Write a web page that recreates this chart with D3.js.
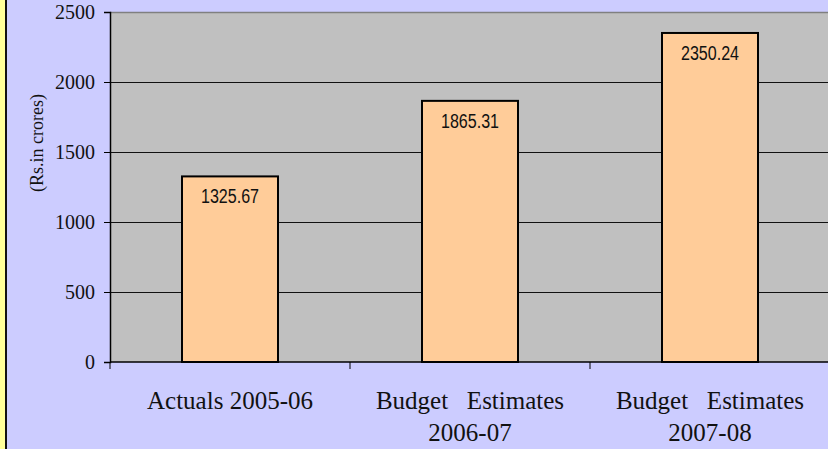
<!DOCTYPE html>
<html>
<head>
<meta charset="utf-8">
<script src="https://cdn.jsdelivr.net/npm/d3@7"></script>
<style>
  html, body { margin: 0; padding: 0; background: #ccccff; }
  svg { display: block; }
</style>
</head>
<body>
<svg id="chart" width="828" height="449"></svg>
<script>
// chart values
var categories = [
  ['Actuals 2005-06'],
  ['Budget   Estimates', '2006-07'],
  ['Budget   Estimates', '2007-08']
];
var values = [1325.67, 1865.31, 2350.24];
var yTicks = [0, 500, 1000, 1500, 2000, 2500];
var yTitle = '(Rs.in crores)';

var svg = d3.select('#chart');
var W = 828, H = 449;
var plot = { left: 110, top: 12, right: 830, bottom: 362 };

// page frame: yellow strip and dark rule on the left
svg.append('rect').attr('width', W).attr('height', H).attr('fill', '#ccccff');
svg.append('rect').attr('x', 0).attr('y', 0).attr('width', 5).attr('height', H).attr('fill', '#ffff99');
svg.append('rect').attr('x', 5).attr('y', 0).attr('width', 2).attr('height', H).attr('fill', '#111');

var x = d3.scaleBand()
  .domain(d3.range(values.length))
  .range([plot.left, plot.right])
  .paddingInner(0.6)
  .paddingOuter(0.3);

var y = d3.scaleLinear()
  .domain([0, 2500])
  .range([plot.bottom, plot.top]);

// plot area
svg.append('rect')
  .attr('x', plot.left).attr('y', plot.top)
  .attr('width', plot.right - plot.left).attr('height', plot.bottom - plot.top)
  .attr('fill', '#c0c0c0');

svg.append('line')
  .attr('x1', plot.left).attr('x2', plot.right)
  .attr('y1', plot.top + 0.5).attr('y2', plot.top + 0.5)
  .attr('stroke', '#808080').attr('stroke-width', 1.5);

// gridlines
svg.append('g').selectAll('line')
  .data(yTicks.filter(function(t) { return t > 0 && t < 2500; }))
  .enter().append('line')
  .attr('x1', plot.left).attr('x2', plot.right)
  .attr('y1', function(d) { return Math.round(y(d)) + 0.5; })
  .attr('y2', function(d) { return Math.round(y(d)) + 0.5; })
  .attr('stroke', '#111').attr('stroke-width', 1);

// bars
svg.append('g').selectAll('rect')
  .data(values)
  .enter().append('rect')
  .attr('x', function(d, i) { return x(i); })
  .attr('y', function(d) { return y(d); })
  .attr('width', x.bandwidth())
  .attr('height', function(d) { return y(0) - y(d); })
  .attr('fill', '#ffcc99')
  .attr('stroke', '#000').attr('stroke-width', 2);

// value labels inside the bars (narrow face squeezed to fit)
svg.append('g').selectAll('text')
  .data(values)
  .enter().append('text')
  .attr('x', function(d, i) { return x(i) + x.bandwidth() / 2; })
  .attr('y', function(d) { return y(d) + 27; })
  .attr('text-anchor', 'middle')
  .attr('font-family', '"Liberation Sans Narrow", "Arial Narrow", "Liberation Sans", sans-serif')
  .attr('font-size', 20)
  .attr('textLength', 58)
  .attr('lengthAdjust', 'spacingAndGlyphs')
  .attr('fill', '#111')
  .text(function(d) { return d.toFixed(2); });

// y axis
var yAxis = svg.append('g')
  .attr('transform', 'translate(' + plot.left + ',0)')
  .call(d3.axisLeft(y).tickValues(yTicks).tickSize(6).tickPadding(9).tickFormat(d3.format('d')));
yAxis.select('.domain').attr('stroke', '#000').attr('stroke-width', 1.5);
yAxis.selectAll('.tick line').attr('stroke', '#000');
yAxis.selectAll('text')
  .attr('font-family', '"Liberation Serif", "Times New Roman", serif')
  .attr('font-size', 20).attr('fill', '#111');

// x axis: ticks at category boundaries
var bounds = d3.range(values.length + 1).map(function(i) { return plot.left + i * x.step(); });
svg.append('line')
  .attr('x1', plot.left).attr('x2', plot.right)
  .attr('y1', plot.bottom).attr('y2', plot.bottom)
  .attr('stroke', '#000').attr('stroke-width', 1.5);
svg.append('g').selectAll('line')
  .data(bounds)
  .enter().append('line')
  .attr('x1', function(d) { return d; }).attr('x2', function(d) { return d; })
  .attr('y1', plot.bottom).attr('y2', plot.bottom + 7)
  .attr('stroke', '#000');

var catText = svg.append('g').selectAll('text')
  .data(categories)
  .enter().append('text')
  .attr('text-anchor', 'middle')
  .attr('font-family', '"Liberation Serif", "Times New Roman", serif')
  .attr('font-size', 25)
  .attr('fill', '#111')
  .style('white-space', 'pre')
  .attr('xml:space', 'preserve');

catText.selectAll('tspan')
  .data(function(d, i) { return d.map(function(s) { return { s: s, i: i }; }); })
  .enter().append('tspan')
  .attr('x', function(d) { return x(d.i) + x.bandwidth() / 2; })
  .attr('y', function(d, j) { return 409 + j * 32; })
  .text(function(d) { return d.s; });

// y axis title
svg.append('text')
  .attr('transform', 'translate(43,143) rotate(-90)')
  .attr('text-anchor', 'middle')
  .attr('font-family', '"Liberation Serif", "Times New Roman", serif')
  .attr('font-size', 18)
  .attr('fill', '#111')
  .text(yTitle);
</script>
</body>
</html>
